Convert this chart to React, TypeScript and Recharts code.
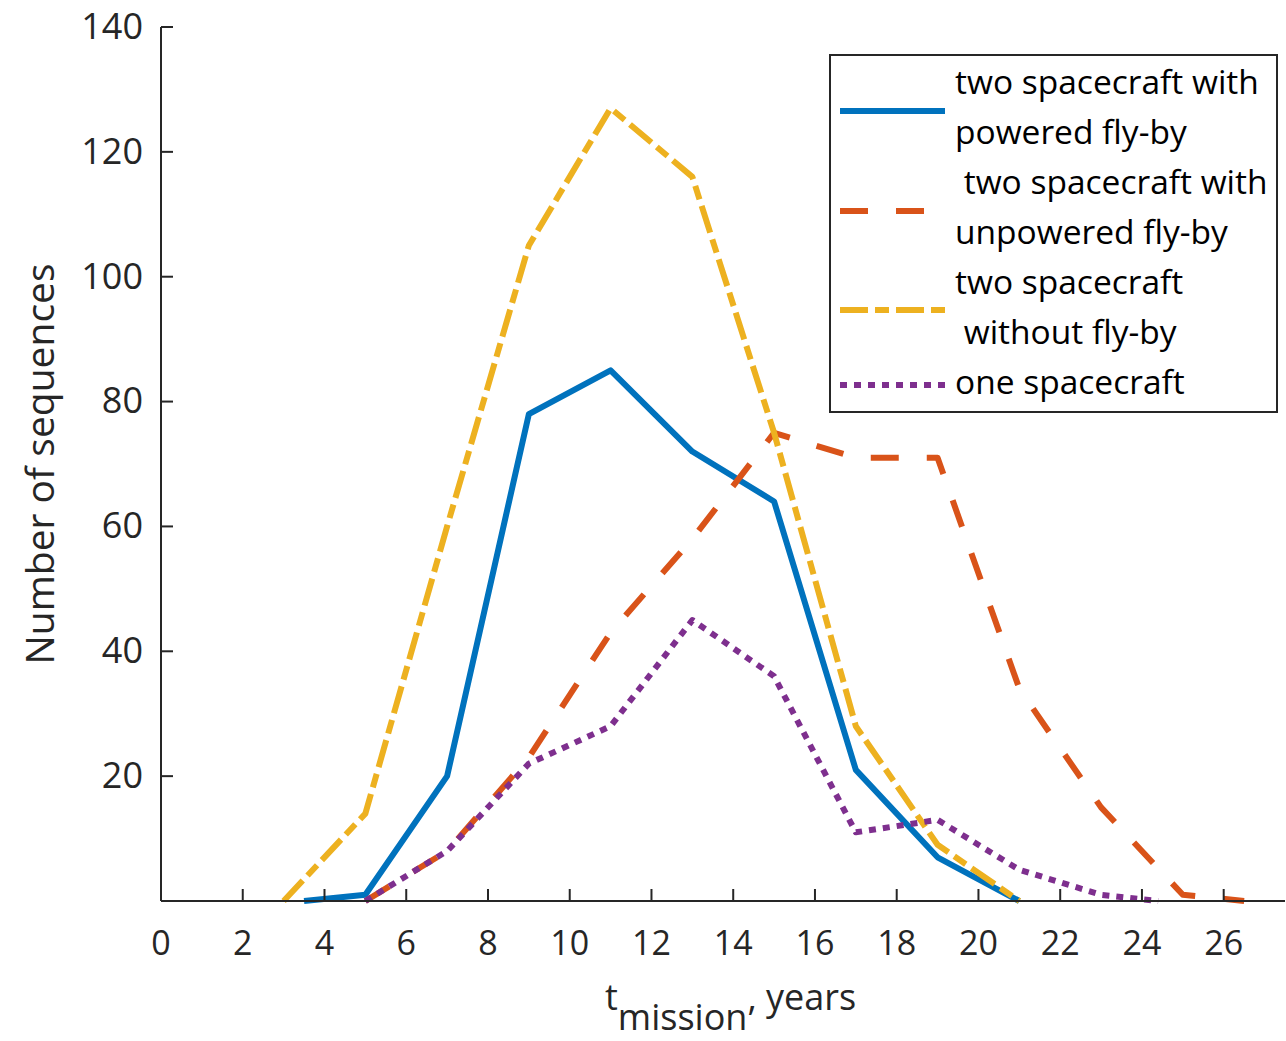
import { LineChart, Line, XAxis, YAxis } from "recharts";

// mission duration (years) and number of sequences per variant
const poweredX = [3.5, 5, 7, 9, 11, 13, 15, 17, 19, 21];
const poweredY = [0, 1, 20, 78, 85, 72, 64, 21, 7, 0];

const unpoweredX = [5, 7, 9, 11, 13, 15, 17, 19, 21, 23, 25, 26.5];
const unpoweredY = [0, 8, 23, 43, 58, 75, 71, 71, 34, 15, 1, 0];

const noFlybyX = [3, 5, 7, 9, 11, 13, 15, 17, 19, 21];
const noFlybyY = [0, 14, 60, 105, 127, 116, 75, 28, 9, 0];

const oneCraftX = [5, 7, 9, 11, 13, 15, 17, 19, 21, 23, 24.4];
const oneCraftY = [0, 8, 22, 28, 45, 36, 11, 13, 5, 1, 0];

const xTicks = [0, 2, 4, 6, 8, 10, 12, 14, 16, 18, 20, 22, 24, 26];
const yTicks = [20, 40, 60, 80, 100, 120, 140];

const toPoints = (xs: number[], ys: number[]) =>
  xs.map((x, i) => ({ x, y: ys[i] }));

const SERIES = [
  {
    key: "powered",
    label: ["two spacecraft with", "powered fly-by"],
    data: toPoints(poweredX, poweredY),
    color: "#0072BD",
    dash: undefined as string | undefined,
  },
  {
    key: "unpowered",
    label: [" two spacecraft with", "unpowered fly-by"],
    data: toPoints(unpoweredX, unpoweredY),
    color: "#D95319",
    dash: "28 28",
  },
  {
    key: "noflyby",
    label: ["two spacecraft", " without fly-by"],
    data: toPoints(noFlybyX, noFlybyY),
    color: "#EDB120",
    dash: "28 7 14 7",
  },
  {
    key: "one",
    label: ["one spacecraft"],
    data: toPoints(oneCraftX, oneCraftY),
    color: "#7E2F8E",
    dash: "7 7",
  },
];

const FONT = "'Open Sans', 'Noto Sans', sans-serif";
const AXIS = "#262626";

function XTick({ x = 0, y = 0, payload }: any) {
  return (
    <g>
      <line x1={x} y1={y} x2={x} y2={y - 12} stroke={AXIS} strokeWidth={2} />
      <text
        x={x}
        y={y + 54}
        textAnchor="middle"
        fill={AXIS}
        fontSize={34}
        fontFamily={FONT}
      >
        {payload.value}
      </text>
    </g>
  );
}

function YTick({ x = 0, y = 0, payload }: any) {
  return (
    <g>
      <line x1={x} y1={y} x2={x + 12} y2={y} stroke={AXIS} strokeWidth={2} />
      <text
        x={x - 18}
        y={y}
        dy="0.33em"
        textAnchor="end"
        fill={AXIS}
        fontSize={36}
        fontFamily={FONT}
      >
        {payload.value}
      </text>
    </g>
  );
}

function XLabel() {
  return (
    <text x={605} y={1010} fill={AXIS} fontSize={36} fontFamily={FONT}>
      t
      <tspan dy={20}>mission</tspan>
      <tspan dy={-20}>, years</tspan>
    </text>
  );
}

function YLabel() {
  return (
    <text
      x={40}
      y={464}
      transform="rotate(-90 40 464)"
      textAnchor="middle"
      dy="0.35em"
      fill={AXIS}
      fontSize={39}
      fontFamily={FONT}
    >
      Number of sequences
    </text>
  );
}

function LegendBox() {
  const sampleYs = [55, 155, 254, 329];
  let lineIdx = 0;
  return (
    <div
      style={{
        position: "absolute",
        left: 829,
        top: 54,
        width: 449,
        height: 359,
        boxSizing: "border-box",
        border: `2px solid ${AXIS}`,
        background: "#fff",
      }}
    >
      <svg width={445} height={355} style={{ position: "absolute", left: 0, top: 0 }}>
        {SERIES.map((s, i) => (
          <line
            key={s.key}
            x1={9}
            x2={114}
            y1={sampleYs[i]}
            y2={sampleYs[i]}
            stroke={s.color}
            strokeWidth={6}
            strokeDasharray={s.dash}
          />
        ))}
        {SERIES.map((s) =>
          s.label.map((t) => {
            const yy = 38 + 50 * lineIdx++;
            return (
              <text
                key={yy}
                x={124}
                y={yy}
                fill="#000"
                fontSize={33.5}
                fontFamily={FONT}
                style={{ whiteSpace: "pre" }}
                xmlSpace="preserve"
              >
                {t}
              </text>
            );
          })
        )}
      </svg>
    </div>
  );
}

export default function App() {
  return (
    <div
      style={{
        position: "absolute",
        left: 0,
        top: 0,
        width: 1286,
        height: 1041,
        background: "#fff",
      }}
    >
      <LineChart
        width={1286}
        height={1041}
        margin={{ top: 27, right: 1, bottom: 0, left: 0 }}
      >
        <XAxis
          dataKey="x"
          type="number"
          domain={[0, 27.5]}
          ticks={xTicks}
          allowDataOverflow
          height={140}
          tickSize={0}
          tickMargin={0}
          tick={<XTick />}
          axisLine={{ stroke: AXIS, strokeWidth: 2 }}
          label={<XLabel />}
        />
        <YAxis
          type="number"
          domain={[0, 140]}
          ticks={yTicks}
          width={161}
          tickSize={0}
          tickMargin={0}
          tick={<YTick />}
          axisLine={{ stroke: AXIS, strokeWidth: 2 }}
          label={<YLabel />}
        />
        {SERIES.map((s) => (
          <Line
            key={s.key}
            data={s.data}
            dataKey="y"
            type="linear"
            stroke={s.color}
            strokeWidth={6}
            strokeDasharray={s.dash}
            strokeLinejoin="round"
            dot={false}
            activeDot={false}
            isAnimationActive={false}
          />
        ))}
      </LineChart>
      <LegendBox />
    </div>
  );
}
